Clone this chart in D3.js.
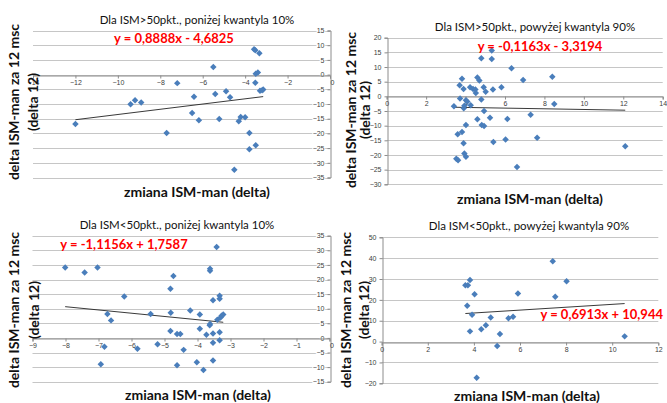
<!DOCTYPE html>
<html>
<head>
<meta charset="utf-8">
<script src="https://cdn.jsdelivr.net/npm/d3@7"></script>
<style>
  body { margin: 0; background: #fff; }
  text { font-family: Lato, "Open Sans", sans-serif; }
</style>
</head>
<body>
<svg id="chart" width="667" height="403"></svg>
<script>
// ISM > 50, below 10% quantile
const above50LowPoints = [
  [-12, -16.8], [-9.4, -10.1], [-9.19, -8.7], [-8.9, -9.5], [-7.7, -19.9], [-7.2, -2.9],
  [-6.5, -13.1], [-6.41, -7.5], [-6.18, -15.5], [-5.5, 2.6], [-5.41, -6.6], [-5.22, -15.1],
  [-4.9, -5.7], [-4.71, -7.7], [-4.51, -32.4], [-4.3, -15.9], [-4.21, -14.4], [-4.0, -14.5],
  [-3.8, -19.9], [-3.8, -25.4], [-3.58, 8.6], [-3.52, 8.3], [-3.52, -2.8], [-3.5, -24.0],
  [-3.5, 0.3], [-3.4, 0.7], [-3.33, 7.3], [-3.3, -5.5], [-3.2, -5.3], [-3.15, -5.1]
];
// ISM > 50, above 90% quantile
const above50HighPoints = [
  [3.41, -3.4], [3.53, -21.3], [3.62, -21.8], [3.6, -12.9], [3.7, 3.8], [3.72, -0.7],
  [3.82, 6.0], [3.82, -12.2], [3.9, 2.5], [3.91, -4.1], [3.94, -3.2], [3.9, -16.0],
  [3.94, -19.5], [4.02, -20.6], [4.02, -1.3], [4.02, -9.8], [4.09, -1.8], [4.23, 3.1],
  [4.26, -3.0], [4.38, 2.5], [4.5, 2.3], [4.52, 1.1], [4.6, 6.4], [4.6, -7.8],
  [4.7, 5.4], [4.8, 13.0], [4.8, -1.1], [4.82, -9.8], [4.92, 3.1], [4.94, -10.1],
  [4.94, -5.0], [5.02, 1.6], [5.24, -7.3], [5.33, 15.6], [5.33, 12.7], [5.39, 2.3],
  [5.41, -15.6], [5.82, 3.1], [6.03, -14.7], [6.12, -7.7], [6.33, 9.6], [6.61, -24.1],
  [6.92, 5.6], [7.3, -6.3], [7.63, -14.1], [8.4, 6.7], [8.5, -2.6], [12.1, -17.0]
];
// ISM < 50, below 10% quantile
const below50LowPoints = [
  [-8.01, 24.1], [-7.42, 22.4], [-7.03, 24.1], [-6.82, -3.0], [-6.93, -9.0], [-6.73, 8.2],
  [-6.62, 6.0], [-6.22, 14.2], [-5.82, -3.7], [-5.42, 8.2], [-5.21, -2.2], [-4.82, 16.8],
  [-4.81, 8.6], [-4.82, 2.4], [-4.73, 21.2], [-4.62, 1.3], [-4.62, -9.4], [-4.52, 1.3],
  [-4.42, -4.1], [-4.22, 9.4], [-4.02, -8.3], [-3.93, 3.1], [-3.93, 8.0], [-3.82, -11.0],
  [-3.73, 1.1], [-3.63, 4.3], [-3.62, 4.8], [-3.62, 23.7], [-3.62, 23.0], [-3.53, 12.9],
  [-3.53, 1.5], [-3.53, -1.7], [-3.53, -7.7], [-3.42, 31.1], [-3.4, 6.2], [-3.33, 14.4],
  [-3.33, 13.4], [-3.33, 1.9], [-3.33, -0.8], [-3.3, 7.0], [-3.27, 7.6], [-3.22, 8.0]
];
// ISM < 50, above 90% quantile
const below50HighPoints = [
  [3.63, 27.0], [3.74, 27.0], [3.83, 29.5], [3.71, 17.2], [4.03, 22.7], [3.92, 12.9],
  [3.83, 4.9], [4.32, 5.9], [4.52, 7.8], [4.73, 11.5], [5.01, -2.1], [5.13, 3.6],
  [5.5, 11.2], [5.7, 11.9], [5.91, 23.1], [4.12, -17.3], [7.42, 38.5], [8.02, 28.9],
  [7.53, 21.5], [10.54, 2.5]
];

const titles = [
  "Dla ISM>50pkt., poniżej kwantyla 10%",
  "Dla ISM>50pkt., powyżej kwantyla 90%",
  "Dla ISM<50pkt., poniżej kwantyla 10%",
  "Dla ISM<50pkt., powyżej kwantyla 90%"
];
const equations = [
  "y = 0,8888x  - 4,6825",
  "y = -0,1163x  - 3,3194",
  "y = -1,1156x  + 1,7587",
  "y = 0,6913x  + 10,944"
];
// trend coefficients [slope, intercept]
const trends = [[0.8888, -4.6825], [-0.1163, -3.3194], [-1.1156, 1.7587], [0.6913, 10.944]];
const xTickValues = [
  [-14, -12, -10, -8, -6, -4, -2, 0],
  [0, 2, 4, 6, 8, 10, 12, 14],
  [-9, -8, -7, -6, -5, -4, -3, -2, -1, 0],
  [0, 2, 4, 6, 8, 10, 12]
];
const yTickValues = [
  [-35, -30, -25, -20, -15, -10, -5, 0, 5, 10, 15],
  [-30, -25, -20, -15, -10, -5, 0, 5, 10, 15, 20],
  [-15, -10, -5, 0, 5, 10, 15, 20, 25, 30, 35],
  [-20, -10, 0, 10, 20, 30, 40, 50]
];
const yTitle = ["delta ISM-man  za 12 msc", "(delta 12)"];
const xTitle = "zmiana ISM-man  (delta)";

// layout of the four panels
const panels = [
  { pts: above50LowPoints, xr: [33, 330], yr: [177.5, 30.5], title: [197, 19], eq: [174, 38, "middle"],
    yt: [13, 32, 102], xt: [197, 191] },
  { pts: above50HighPoints, xr: [386.7, 662.7], yr: [184.3, 37.7], title: [535, 26], eq: [540, 46, "middle"],
    yt: [350, 364, 110], xt: [530, 198] },
  { pts: below50LowPoints, xr: [32.5, 329.5], yr: [381.7, 235.7], title: [177, 224], eq: [124, 243.5, "middle"],
    yt: [13, 33, 310], xt: [198, 394.5] },
  { pts: below50HighPoints, xr: [381.7, 658.3], yr: [383.3, 237.3], title: [529, 225], eq: [663, 313.5, "end"],
    yt: [345, 363, 310], xt: [527, 395] }
];

const svg = d3.select("#chart");

panels.forEach((p, i) => {
  const xt = xTickValues[i], yt = yTickValues[i];
  const x = d3.scaleLinear().domain([xt[0], xt[xt.length - 1]]).range(p.xr);
  const y = d3.scaleLinear().domain([yt[0], yt[yt.length - 1]]).range(p.yr);
  const g = svg.append("g");

  // gridlines
  g.append("g")
    .selectAll("line")
    .data(yt)
    .join("line")
    .attr("x1", p.xr[0])
    .attr("x2", p.xr[1])
    .attr("y1", (d) => Math.round(y(d)) + 0.5)
    .attr("y2", (d) => Math.round(y(d)) + 0.5)
    .attr("stroke", "#c6c6c6")
    .attr("stroke-width", 1.2);

  // y axis at x=0
  const yAxis = g.append("g")
    .attr("transform", `translate(${Math.round(x(0)) + 0.5},0)`)
    .call(d3.axisLeft(y).tickValues(yt).tickSize(3).tickPadding(3).tickFormat(d3.format("d")));
  // x axis at y=0
  const xAxis = g.append("g")
    .attr("transform", `translate(0,${Math.round(y(0)) + 0.5})`)
    .call(d3.axisBottom(x).tickValues(xt).tickSize(3).tickPadding(2).tickFormat(d3.format("d")));

  [xAxis, yAxis].forEach((a) => {
    a.select(".domain").attr("stroke", "#8c8c8c");
    a.selectAll(".tick line").attr("stroke", "#8c8c8c");
    a.selectAll(".tick text")
      .style("font-size", "7px")
      .style("font-family", "'Liberation Sans', Arial, sans-serif")
      .attr("fill", "#404040");
  });
  // labels sit over the gridlines in the left panels
  yAxis.selectAll(".tick text")
    .attr("stroke", "#fff")
    .attr("stroke-width", 2)
    .attr("paint-order", "stroke");
  yAxis.selectAll(".tick").filter((d) => d === 0).select("text").attr("dy", "0.32em");
  if (i % 2 === 0) {
    xAxis.selectAll(".tick").filter((d) => d === 0).select("text").attr("dx", 2);
  }

  // trend line
  const [m, b] = trends[i];
  const xe = d3.extent(p.pts, (d) => d[0]);
  g.append("line")
    .attr("x1", x(xe[0]))
    .attr("y1", y(m * xe[0] + b))
    .attr("x2", x(xe[1]))
    .attr("y2", y(m * xe[1] + b))
    .attr("stroke", "#222")
    .attr("stroke-width", 0.9);

  // points
  g.append("g")
    .selectAll("path")
    .data(p.pts)
    .join("path")
    .attr("d", d3.symbol(d3.symbolSquare, 21))
    .attr("transform", (d) => `translate(${x(d[0])},${y(d[1])}) rotate(45)`)
    .attr("fill", "#4a7ebb");

  // texts
  g.append("text")
    .attr("x", p.title[0])
    .attr("y", p.title[1])
    .attr("text-anchor", "middle")
    .attr("dominant-baseline", "central")
    .style("font-size", "11.5px")
    .attr("fill", "#111")
    .text(titles[i]);

  g.append("text")
    .attr("x", p.eq[0])
    .attr("y", p.eq[1])
    .attr("text-anchor", p.eq[2])
    .attr("dominant-baseline", "central")
    .style("font-size", "13px")
    .style("font-weight", "bold")
    .attr("fill", "#ff0000")
    .text(equations[i]);

  yTitle.forEach((t, k) => {
    g.append("text")
      .attr("transform", `translate(${p.yt[k]},${p.yt[2]}) rotate(-90)`)
      .attr("text-anchor", "middle")
      .attr("dominant-baseline", "central")
      .style("font-size", "14px")
      .style("font-weight", "bold")
      .attr("fill", "#111")
      .text(t);
  });

  g.append("text")
    .attr("x", p.xt[0])
    .attr("y", p.xt[1])
    .attr("text-anchor", "middle")
    .attr("dominant-baseline", "central")
    .style("font-size", "14px")
    .style("font-weight", "bold")
    .attr("fill", "#111")
    .text(xTitle);
});
</script>
</body>
</html>
